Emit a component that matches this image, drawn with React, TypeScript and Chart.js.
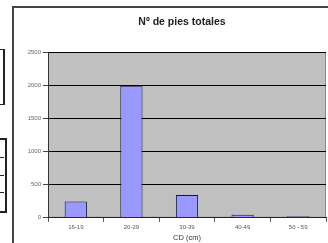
import React, { useEffect, useRef } from "react";
import { Chart, registerables } from "chart.js";

Chart.register(...registerables);

const categories = ["16-19", "20-29", "30-39", "40-49", "50 - 59"];
const pies = [245, 1990, 345, 45, 25];
const yTicks = [0, 500, 1000, 1500, 2000, 2500];
const chartTitle = "Nº de pies totales";
const xTitle = "CD (cm)";

const plotBg = {
  id: "plotBg",
  beforeDraw(chart: any) {
    const { ctx, chartArea } = chart;
    ctx.save();
    ctx.fillStyle = "#c0c0c0";
    ctx.fillRect(chartArea.left, chartArea.top, chartArea.right - chartArea.left, chartArea.bottom - chartArea.top);
    ctx.strokeStyle = "#8a8a8a";
    ctx.lineWidth = 1;
    ctx.strokeRect(chartArea.left + 0.5, chartArea.top + 0.5, chartArea.right - chartArea.left - 1, chartArea.bottom - chartArea.top - 1);
    ctx.restore();
  },
};

export default function App() {
  const ref = useRef<HTMLCanvasElement | null>(null);
  useEffect(() => {
    if (!ref.current) return;
    const chart = new Chart(ref.current, {
      type: "bar",
      data: {
        labels: categories,
        datasets: [
          {
            data: pies,
            backgroundColor: "#9999ff",
            borderColor: "#141433",
            borderWidth: 1,
            categoryPercentage: 1,
            barPercentage: 0.4,
          },
        ],
      },
      plugins: [plotBg],
      options: {
        animation: false,
        responsive: false,
        maintainAspectRatio: false,
        layout: { padding: { left: 0, right: 24, top: 44, bottom: 0 } },
        plugins: {
          legend: { display: false },
          tooltip: { enabled: false },
          title: { display: false },
        },
        scales: {
          x: {
            grid: {
              offset: true,
              drawOnChartArea: false,
              drawTicks: true,
              tickLength: 4,
              color: "#555",
            },
            border: { display: true, color: "#222", width: 1 },
            ticks: {
              color: "#555",
              font: { family: "'Liberation Sans', Arial, sans-serif", size: 6 },
              padding: 2,
              maxRotation: 0,
              autoSkip: false,
            },
            title: {
              display: true,
              text: xTitle,
              color: "#333",
              font: { family: "'Liberation Sans', Arial, sans-serif", size: 7.5 },
              padding: { top: 0, bottom: 2 },
            },
          },
          y: {
            min: 0,
            max: 2500,
            afterBuildTicks: (scale: any) => {
              scale.ticks = yTicks.map((v) => ({ value: v }));
            },
            afterFit: (scale: any) => {
              scale.width = 34;
            },
            grid: {
              color: "#000",
              lineWidth: 1,
              drawTicks: true,
              tickLength: 5,
              tickColor: "#444",
            },
            border: { display: true, color: "#333", width: 1 },
            ticks: {
              color: "#666",
              font: { family: "'Liberation Sans', Arial, sans-serif", size: 6 },
              padding: 2,
              callback: (v: any) => String(v),
            },
          },
        },
      },
    });
    return () => chart.destroy();
  }, []);

  const line = "#222";
  return (
    <div style={{ position: "fixed", left: 0, top: 0, width: 328, height: 243, overflow: "hidden", background: "#fff" }}>
      <div style={{ position: "absolute", left: -2, top: 49, width: 5, height: 54, borderTop: `1px solid ${line}`, borderRight: `2px solid ${line}`, borderBottom: `1px solid ${line}` }} />
      <div style={{ position: "absolute", left: -2, top: 138, width: 5, height: 71, border: `2px solid ${line}` }} />
      <div style={{ position: "absolute", left: 0, top: 157, width: 4, height: 1, background: line }} />
      <div style={{ position: "absolute", left: 0, top: 175, width: 4, height: 1, background: line }} />
      <div style={{ position: "absolute", left: 0, top: 192, width: 4, height: 1, background: line }} />
      <div style={{ position: "absolute", left: 12, top: 6, width: 340, height: 260, borderLeft: "2px solid #444", borderTop: "2px solid #444" }} />
      <canvas ref={ref} width={336} height={236} style={{ position: "absolute", left: 14, top: 8, width: 336, height: 236 }} />
      <div style={{ position: "absolute", left: 82, width: 200, top: 14, height: 14, lineHeight: "14px", textAlign: "center", fontFamily: "'Liberation Sans', Arial, sans-serif", fontWeight: "bold", fontSize: 10.5, color: "#222" }}>
        {chartTitle}
      </div>
    </div>
  );
}
